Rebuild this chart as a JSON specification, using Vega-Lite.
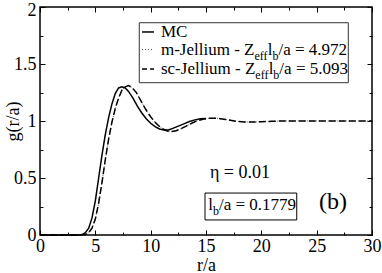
{
  "$schema": "https://vega.github.io/schema/vega-lite/v6.json",
  "width": 332,
  "height": 228,
  "autosize": "none",
  "padding": {"left": 40, "top": 7, "right": 10, "bottom": 38},
  "config": {
    "view": {"stroke": "black", "strokeWidth": 1.5},
    "font": "Liberation Serif",
    "axis": {
      "domain": false,
      "grid": false,
      "tickColor": "black",
      "tickWidth": 1,
      "format": "~g",
      "labelFont": "Liberation Serif",
      "labelFontSize": 18,
      "labelColor": "black",
      "labelOverlap": false,
      "labelFlush": false,
      "titleFont": "Liberation Serif",
      "titleFontSize": 18,
      "titleFontWeight": "normal",
      "titleColor": "black"
    },
    "text": {"font": "Liberation Serif", "color": "black"}
  },
  "datasets": {
    "curves": [
      {"r": 0, "g": 0, "s": "MC"}, {"r": 3.5, "g": 0, "s": "MC"}, {"r": 3.8, "g": 0.004, "s": "MC"},
      {"r": 4.1, "g": 0.02, "s": "MC"}, {"r": 4.4, "g": 0.06, "s": "MC"}, {"r": 4.7, "g": 0.15, "s": "MC"},
      {"r": 5.0, "g": 0.3, "s": "MC"}, {"r": 5.3, "g": 0.5, "s": "MC"}, {"r": 5.6, "g": 0.7, "s": "MC"},
      {"r": 5.9, "g": 0.88, "s": "MC"}, {"r": 6.2, "g": 1.03, "s": "MC"}, {"r": 6.5, "g": 1.15, "s": "MC"},
      {"r": 6.8, "g": 1.24, "s": "MC"}, {"r": 7.1, "g": 1.29, "s": "MC"}, {"r": 7.4, "g": 1.3, "s": "MC"},
      {"r": 7.7, "g": 1.29, "s": "MC"}, {"r": 8.0, "g": 1.26, "s": "MC"}, {"r": 8.4, "g": 1.2, "s": "MC"},
      {"r": 8.8, "g": 1.13, "s": "MC"}, {"r": 9.2, "g": 1.07, "s": "MC"}, {"r": 9.6, "g": 1.02, "s": "MC"},
      {"r": 10.0, "g": 0.98, "s": "MC"}, {"r": 10.4, "g": 0.95, "s": "MC"}, {"r": 10.8, "g": 0.93, "s": "MC"},
      {"r": 11.2, "g": 0.92, "s": "MC"}, {"r": 11.6, "g": 0.922, "s": "MC"}, {"r": 12.0, "g": 0.935, "s": "MC"},
      {"r": 12.5, "g": 0.955, "s": "MC"}, {"r": 13.0, "g": 0.975, "s": "MC"}, {"r": 13.5, "g": 0.995, "s": "MC"},
      {"r": 14.0, "g": 1.01, "s": "MC"}, {"r": 14.5, "g": 1.02, "s": "MC"}, {"r": 15.0, "g": 1.023, "s": "MC"},

      {"r": 0, "g": 0, "s": "sc"}, {"r": 3.8, "g": 0, "s": "sc"}, {"r": 4.1, "g": 0.005, "s": "sc"},
      {"r": 4.4, "g": 0.02, "s": "sc"}, {"r": 4.7, "g": 0.06, "s": "sc"}, {"r": 5.0, "g": 0.14, "s": "sc"},
      {"r": 5.3, "g": 0.28, "s": "sc"}, {"r": 5.6, "g": 0.46, "s": "sc"}, {"r": 5.9, "g": 0.66, "s": "sc"},
      {"r": 6.2, "g": 0.84, "s": "sc"}, {"r": 6.5, "g": 0.99, "s": "sc"}, {"r": 6.8, "g": 1.11, "s": "sc"},
      {"r": 7.1, "g": 1.2, "s": "sc"}, {"r": 7.4, "g": 1.27, "s": "sc"}, {"r": 7.7, "g": 1.3, "s": "sc"},
      {"r": 8.0, "g": 1.31, "s": "sc"}, {"r": 8.3, "g": 1.295, "s": "sc"}, {"r": 8.7, "g": 1.25, "s": "sc"},
      {"r": 9.1, "g": 1.18, "s": "sc"}, {"r": 9.5, "g": 1.11, "s": "sc"}, {"r": 9.9, "g": 1.05, "s": "sc"},
      {"r": 10.3, "g": 1.0, "s": "sc"}, {"r": 10.7, "g": 0.96, "s": "sc"}, {"r": 11.1, "g": 0.93, "s": "sc"},
      {"r": 11.5, "g": 0.912, "s": "sc"}, {"r": 11.9, "g": 0.908, "s": "sc"}, {"r": 12.3, "g": 0.915, "s": "sc"},
      {"r": 12.8, "g": 0.935, "s": "sc"}, {"r": 13.3, "g": 0.96, "s": "sc"}, {"r": 13.8, "g": 0.985, "s": "sc"},
      {"r": 14.3, "g": 1.005, "s": "sc"}, {"r": 14.8, "g": 1.018, "s": "sc"}, {"r": 15.4, "g": 1.025, "s": "sc"},
      {"r": 16.0, "g": 1.024, "s": "sc"}, {"r": 16.6, "g": 1.016, "s": "sc"}, {"r": 17.2, "g": 1.006, "s": "sc"},
      {"r": 17.8, "g": 0.997, "s": "sc"}, {"r": 18.5, "g": 0.992, "s": "sc"}, {"r": 19.2, "g": 0.991, "s": "sc"},
      {"r": 20.0, "g": 0.994, "s": "sc"}, {"r": 21.0, "g": 0.998, "s": "sc"}, {"r": 22.0, "g": 1.0, "s": "sc"},
      {"r": 24.0, "g": 1.001, "s": "sc"}, {"r": 26.0, "g": 1.0, "s": "sc"}, {"r": 28.0, "g": 1.0, "s": "sc"},
      {"r": 30.0, "g": 1.0, "s": "sc"},

      {"r": 0, "g": 0, "s": "m"}, {"r": 3.8, "g": 0, "s": "m"}, {"r": 4.1, "g": 0.005, "s": "m"},
      {"r": 4.4, "g": 0.02, "s": "m"}, {"r": 4.7, "g": 0.06, "s": "m"}, {"r": 5.0, "g": 0.14, "s": "m"},
      {"r": 5.3, "g": 0.28, "s": "m"}, {"r": 5.6, "g": 0.46, "s": "m"}, {"r": 5.9, "g": 0.66, "s": "m"},
      {"r": 6.2, "g": 0.84, "s": "m"}, {"r": 6.5, "g": 0.99, "s": "m"}, {"r": 6.8, "g": 1.11, "s": "m"},
      {"r": 7.1, "g": 1.2, "s": "m"}, {"r": 7.4, "g": 1.27, "s": "m"}, {"r": 7.7, "g": 1.3, "s": "m"},
      {"r": 8.0, "g": 1.31, "s": "m"}, {"r": 8.3, "g": 1.295, "s": "m"}, {"r": 8.7, "g": 1.25, "s": "m"},
      {"r": 9.1, "g": 1.18, "s": "m"}, {"r": 9.5, "g": 1.11, "s": "m"}, {"r": 9.9, "g": 1.05, "s": "m"},
      {"r": 10.3, "g": 1.0, "s": "m"}, {"r": 10.7, "g": 0.96, "s": "m"}, {"r": 11.1, "g": 0.93, "s": "m"},
      {"r": 11.5, "g": 0.912, "s": "m"}, {"r": 11.9, "g": 0.908, "s": "m"}, {"r": 12.3, "g": 0.915, "s": "m"},
      {"r": 12.8, "g": 0.935, "s": "m"}, {"r": 13.3, "g": 0.96, "s": "m"}, {"r": 13.8, "g": 0.985, "s": "m"},
      {"r": 14.3, "g": 1.005, "s": "m"}, {"r": 14.8, "g": 1.018, "s": "m"}, {"r": 15.4, "g": 1.025, "s": "m"},
      {"r": 16.0, "g": 1.024, "s": "m"}, {"r": 16.6, "g": 1.016, "s": "m"}, {"r": 17.2, "g": 1.006, "s": "m"},
      {"r": 17.8, "g": 0.997, "s": "m"}, {"r": 18.5, "g": 0.992, "s": "m"}, {"r": 19.2, "g": 0.991, "s": "m"},
      {"r": 20.0, "g": 0.994, "s": "m"}, {"r": 21.0, "g": 0.998, "s": "m"}, {"r": 22.0, "g": 1.0, "s": "m"},
      {"r": 24.0, "g": 1.001, "s": "m"}, {"r": 26.0, "g": 1.0, "s": "m"}, {"r": 28.0, "g": 1.0, "s": "m"},
      {"r": 30.0, "g": 1.0, "s": "m"}
    ],
    "one": [{}]
  },
  "layer": [
    {
      "data": {"name": "curves"},
      "transform": [{"filter": "datum.s === 'm'"}],
      "mark": {"type": "line", "color": "#555", "strokeWidth": 1, "strokeDash": [1, 2]},
      "encoding": {
        "x": {"field": "r", "type": "quantitative", "scale": {"domain": [0, 30], "nice": false},
          "axis": {"orient": "bottom", "values": [0, 2.5, 5, 7.5, 10, 12.5, 15, 17.5, 20, 22.5, 25, 27.5, 30],
            "labelExpr": "datum.value % 5 === 0 ? datum.label : ''",
            "tickSize": {"condition": {"test": "datum.value % 5 === 0", "value": -5}, "value": -3},
            "labelPadding": 7, "title": "r/a", "titlePadding": -1}},
        "y": {"field": "g", "type": "quantitative", "scale": {"domain": [0, 2], "nice": false},
          "axis": {"orient": "left", "values": [0, 0.25, 0.5, 0.75, 1, 1.25, 1.5, 1.75, 2],
            "labelExpr": "datum.value % 0.5 === 0 ? datum.label : ''",
            "labelOffset": {"condition": {"test": "datum.value === 2", "value": 3}, "value": 0},
            "tickSize": {"condition": {"test": "datum.value % 0.5 === 0", "value": -5}, "value": -3},
            "labelPadding": 9, "title": "g(r/a)", "titleX": -18}}
      }
    },
    {
      "data": {"name": "curves"},
      "transform": [{"filter": "datum.s === 'sc'"}],
      "mark": {"type": "line", "color": "black", "strokeWidth": 1.5, "strokeDash": [7, 3]},
      "encoding": {
        "x": {"field": "r", "type": "quantitative",
          "axis": {"orient": "top", "values": [0, 2.5, 5, 7.5, 10, 12.5, 15, 17.5, 20, 22.5, 25, 27.5, 30],
            "labels": false, "title": null,
            "tickSize": {"condition": {"test": "datum.value % 5 === 0", "value": -5}, "value": -3}}},
        "y": {"field": "g", "type": "quantitative",
          "axis": {"orient": "right", "values": [0, 0.25, 0.5, 0.75, 1, 1.25, 1.5, 1.75, 2],
            "labels": false, "title": null,
            "tickSize": {"condition": {"test": "datum.value % 0.5 === 0", "value": -5}, "value": -3}}}
      }
    },
    {
      "data": {"name": "curves"},
      "transform": [{"filter": "datum.s === 'MC'"}],
      "mark": {"type": "line", "color": "black", "strokeWidth": 1.5},
      "encoding": {
        "x": {"field": "r", "type": "quantitative", "axis": null},
        "y": {"field": "g", "type": "quantitative", "axis": null}
      }
    },
    {
      "data": {"name": "one"},
      "mark": {"type": "rect", "fill": "white", "stroke": "#333", "strokeWidth": 1},
      "encoding": {
        "x": {"datum": 8.97, "type": "quantitative", "axis": null}, "x2": {"datum": 27.86},
        "y": {"datum": 1.862, "type": "quantitative", "axis": null}, "y2": {"datum": 1.336}
      }
    },
    {
      "data": {"name": "one"},
      "mark": {"type": "rule", "color": "black", "strokeWidth": 1.5},
      "encoding": {
        "x": {"datum": 9.22, "type": "quantitative", "axis": null}, "x2": {"datum": 10.3},
        "y": {"datum": 1.781, "type": "quantitative", "axis": null}
      }
    },
    {
      "data": {"name": "one"},
      "mark": {"type": "rule", "color": "#555", "strokeWidth": 1, "strokeDash": [1, 2]},
      "encoding": {
        "x": {"datum": 9.22, "type": "quantitative", "axis": null}, "x2": {"datum": 10.3},
        "y": {"datum": 1.627, "type": "quantitative", "axis": null}
      }
    },
    {
      "data": {"name": "one"},
      "mark": {"type": "rule", "color": "black", "strokeWidth": 1.5, "strokeDash": [5, 3]},
      "encoding": {
        "x": {"datum": 9.22, "type": "quantitative", "axis": null}, "x2": {"datum": 10.3},
        "y": {"datum": 1.456, "type": "quantitative", "axis": null}
      }
    },
    {
      "data": {"name": "one"},
      "mark": {"type": "text", "fontSize": 17, "align": "left", "baseline": "middle", "text": "MC"},
      "encoding": {"x": {"datum": 10.93, "type": "quantitative", "axis": null}, "y": {"datum": 1.781, "type": "quantitative", "axis": null}}
    },
    {
      "data": {"name": "one"},
      "mark": {"type": "text", "fontSize": 17, "align": "left", "baseline": "middle", "text": "m-Jellium - Z"},
      "encoding": {"x": {"datum": 10.93, "type": "quantitative", "axis": null}, "y": {"datum": 1.627, "type": "quantitative", "axis": null}}
    },
    {
      "data": {"name": "one"},
      "mark": {"type": "text", "fontSize": 12, "align": "left", "baseline": "middle", "dx": 93.5, "dy": 6, "text": "eff"},
      "encoding": {"x": {"datum": 10.93, "type": "quantitative", "axis": null}, "y": {"datum": 1.627, "type": "quantitative", "axis": null}}
    },
    {
      "data": {"name": "one"},
      "mark": {"type": "text", "fontSize": 17, "align": "left", "baseline": "middle", "dx": 106.8, "text": "l"},
      "encoding": {"x": {"datum": 10.93, "type": "quantitative", "axis": null}, "y": {"datum": 1.627, "type": "quantitative", "axis": null}}
    },
    {
      "data": {"name": "one"},
      "mark": {"type": "text", "fontSize": 12, "align": "left", "baseline": "middle", "dx": 111.5, "dy": 6, "text": "b"},
      "encoding": {"x": {"datum": 10.93, "type": "quantitative", "axis": null}, "y": {"datum": 1.627, "type": "quantitative", "axis": null}}
    },
    {
      "data": {"name": "one"},
      "mark": {"type": "text", "fontSize": 17, "align": "left", "baseline": "middle", "dx": 117.5, "text": "/a = 4.972"},
      "encoding": {"x": {"datum": 10.93, "type": "quantitative", "axis": null}, "y": {"datum": 1.627, "type": "quantitative", "axis": null}}
    },
    {
      "data": {"name": "one"},
      "mark": {"type": "text", "fontSize": 17, "align": "left", "baseline": "middle", "text": "sc-Jellium - Z"},
      "encoding": {"x": {"datum": 10.93, "type": "quantitative", "axis": null}, "y": {"datum": 1.456, "type": "quantitative", "axis": null}}
    },
    {
      "data": {"name": "one"},
      "mark": {"type": "text", "fontSize": 12, "align": "left", "baseline": "middle", "dx": 94.4, "dy": 6, "text": "eff"},
      "encoding": {"x": {"datum": 10.93, "type": "quantitative", "axis": null}, "y": {"datum": 1.456, "type": "quantitative", "axis": null}}
    },
    {
      "data": {"name": "one"},
      "mark": {"type": "text", "fontSize": 17, "align": "left", "baseline": "middle", "dx": 107.7, "text": "l"},
      "encoding": {"x": {"datum": 10.93, "type": "quantitative", "axis": null}, "y": {"datum": 1.456, "type": "quantitative", "axis": null}}
    },
    {
      "data": {"name": "one"},
      "mark": {"type": "text", "fontSize": 12, "align": "left", "baseline": "middle", "dx": 112.4, "dy": 6, "text": "b"},
      "encoding": {"x": {"datum": 10.93, "type": "quantitative", "axis": null}, "y": {"datum": 1.456, "type": "quantitative", "axis": null}}
    },
    {
      "data": {"name": "one"},
      "mark": {"type": "text", "fontSize": 17, "align": "left", "baseline": "middle", "dx": 118.4, "text": "/a = 5.093"},
      "encoding": {"x": {"datum": 10.93, "type": "quantitative", "axis": null}, "y": {"datum": 1.456, "type": "quantitative", "axis": null}}
    },
    {
      "data": {"name": "one"},
      "mark": {"type": "text", "fontSize": 18, "align": "center", "baseline": "middle", "text": "η = 0.01"},
      "encoding": {"x": {"datum": 18.07, "type": "quantitative", "axis": null}, "y": {"datum": 0.544, "type": "quantitative", "axis": null}}
    },
    {
      "data": {"name": "one"},
      "mark": {"type": "rect", "fill": "white", "stroke": "black", "strokeWidth": 1},
      "encoding": {
        "x": {"datum": 14.91, "type": "quantitative", "axis": null}, "x2": {"datum": 23.2},
        "y": {"datum": 0.368, "type": "quantitative", "axis": null}, "y2": {"datum": 0.132}
      }
    },
    {
      "data": {"name": "one"},
      "mark": {"type": "text", "fontSize": 17, "align": "left", "baseline": "middle", "text": "l"},
      "encoding": {"x": {"datum": 15.2, "type": "quantitative", "axis": null}, "y": {"datum": 0.263, "type": "quantitative", "axis": null}}
    },
    {
      "data": {"name": "one"},
      "mark": {"type": "text", "fontSize": 12, "align": "left", "baseline": "middle", "dx": 4.7, "dy": 6, "text": "b"},
      "encoding": {"x": {"datum": 15.2, "type": "quantitative", "axis": null}, "y": {"datum": 0.263, "type": "quantitative", "axis": null}}
    },
    {
      "data": {"name": "one"},
      "mark": {"type": "text", "fontSize": 17, "align": "left", "baseline": "middle", "dx": 10.7, "text": "/a = 0.1779"},
      "encoding": {"x": {"datum": 15.2, "type": "quantitative", "axis": null}, "y": {"datum": 0.263, "type": "quantitative", "axis": null}}
    },
    {
      "data": {"name": "one"},
      "mark": {"type": "text", "fontSize": 24, "align": "center", "baseline": "middle", "text": "(b)"},
      "encoding": {"x": {"datum": 26.48, "type": "quantitative", "axis": null}, "y": {"datum": 0.289, "type": "quantitative", "axis": null}}
    }
  ],
  "resolve": {"axis": {"x": "independent", "y": "independent"}}
}
